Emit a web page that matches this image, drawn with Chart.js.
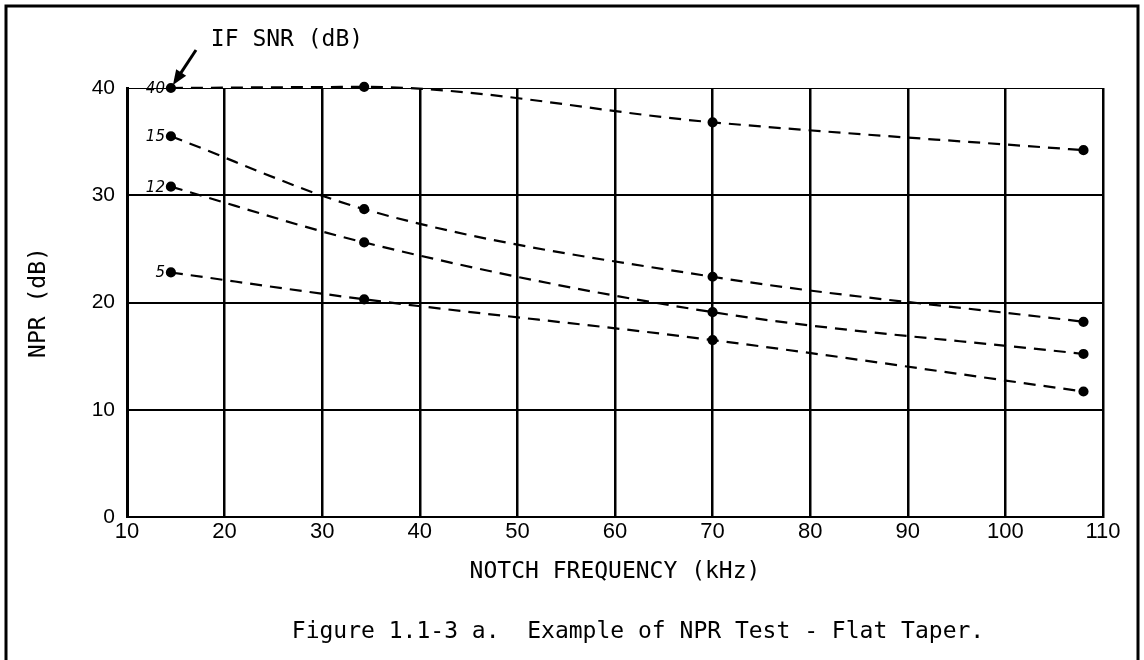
<!DOCTYPE html>
<html>
<head>
<meta charset="utf-8">
<title>NPR Test - Flat Taper</title>
<script src="https://cdn.jsdelivr.net/npm/chart.js@4.4.1/dist/chart.umd.min.js"></script>
<style>
  html, body { margin: 0; padding: 0; background: #fff; }
  canvas { display: block; }
</style>
</head>
<body>
<canvas id="nprChart" width="1144" height="660"></canvas>
<script>
// notch frequencies (kHz) where NPR was measured
const freqKHz = [14.5, 34.3, 70, 108];

// IF SNR (dB) of each curve, and the NPR (dB) read at each notch
const snrLabels = ['40', '15', '12', '5'];
const npr40 = [40, 40.1, 36.8, 34.2];
const npr15 = [35.5, 28.7, 22.4, 18.2];
const npr12 = [30.8, 25.6, 19.1, 15.2];
const npr5 = [22.8, 20.3, 16.5, 11.7];

const xTicks = [10, 20, 30, 40, 50, 60, 70, 80, 90, 100, 110];
const yTicks = [0, 10, 20, 30, 40];

const monoFont = "'DejaVu Sans Mono', monospace";
const digitFont = "'Liberation Sans', sans-serif";

function makeSeries(label, values) {
  return {
    label: label,
    data: freqKHz.map((f, i) => ({ x: f, y: values[i] })),
    showLine: true,
    clip: false,
    borderColor: '#000',
    backgroundColor: '#000',
    borderWidth: 2.2,
    borderDash: [12, 8],
    pointRadius: 4,
    pointHoverRadius: 4,
    cubicInterpolationMode: 'monotone',
  };
}

// frame, curve labels, "IF SNR" note and figure caption
const paperMarks = {
  id: 'paperMarks',
  beforeDraw(chart) {
    const ctx = chart.ctx;
    ctx.save();
    ctx.fillStyle = '#fff';
    ctx.fillRect(0, 0, chart.width, chart.height);
    ctx.strokeStyle = '#000';
    ctx.lineWidth = 3;
    ctx.beginPath();
    ctx.moveTo(6, chart.height);
    ctx.lineTo(6, 6);
    ctx.lineTo(1138, 6);
    ctx.lineTo(1138, chart.height);
    ctx.stroke();
    ctx.restore();
  },
  afterDatasetsDraw(chart) {
    const ctx = chart.ctx;
    ctx.save();
    ctx.fillStyle = '#000';
    ctx.strokeStyle = '#000';

    // curve labels beside the first point of each curve
    ctx.font = "italic 15px 'DejaVu Sans', sans-serif";
    ctx.textAlign = 'right';
    ctx.textBaseline = 'middle';
    chart.data.datasets.forEach((ds, i) => {
      const pt = chart.getDatasetMeta(i).data[0];
      ctx.fillText(ds.label, pt.x - 6, pt.y + 1);
    });

    // IF SNR (dB) note with arrow to the 40 dB curve
    const first = chart.getDatasetMeta(0).data[0];
    ctx.font = '23px ' + monoFont;
    ctx.textAlign = 'center';
    ctx.fillText('IF SNR (dB)', 287, 40);
    const tipX = first.x + 2, tipY = first.y - 3;
    const tailX = 196, tailY = 50;
    const ang = Math.atan2(tipY - tailY, tipX - tailX);
    ctx.lineWidth = 3;
    ctx.beginPath();
    ctx.moveTo(tailX, tailY);
    ctx.lineTo(tipX - 10 * Math.cos(ang), tipY - 10 * Math.sin(ang));
    ctx.stroke();
    ctx.beginPath();
    ctx.moveTo(tipX, tipY);
    ctx.lineTo(tipX - 15 * Math.cos(ang) + 6 * Math.sin(ang), tipY - 15 * Math.sin(ang) - 6 * Math.cos(ang));
    ctx.lineTo(tipX - 15 * Math.cos(ang) - 6 * Math.sin(ang), tipY - 15 * Math.sin(ang) + 6 * Math.cos(ang));
    ctx.closePath();
    ctx.fill();

    // figure caption
    ctx.font = '23px ' + monoFont;
    ctx.textAlign = 'center';
    ctx.fillText('Figure 1.1-3 a.  Example of NPR Test - Flat Taper.', 638, 632);
    ctx.restore();
  },
};

const ctx = document.getElementById('nprChart');

new Chart(ctx, {
  type: 'scatter',
  data: {
    datasets: [
      makeSeries(snrLabels[0], npr40),
      makeSeries(snrLabels[1], npr15),
      makeSeries(snrLabels[2], npr12),
      makeSeries(snrLabels[3], npr5),
    ],
  },
  options: {
    responsive: false,
    animation: false,
    devicePixelRatio: 1,
    layout: {
      padding: { top: 88, left: 20, right: 41, bottom: 44 },
    },
    plugins: {
      legend: { display: false },
      tooltip: { enabled: false },
    },
    scales: {
      x: {
        type: 'linear',
        min: 10,
        max: 110,
        afterBuildTicks: (scale) => {
          scale.ticks = xTicks.map((v) => ({ value: v }));
        },
        afterFit: (scale) => {
          scale.height = 99;
        },
        grid: {
          color: '#000',
          lineWidth: 2.5,
          drawTicks: false,
        },
        border: { color: '#000', width: 2 },
        ticks: {
          color: '#000',
          padding: 2,
          font: { family: digitFont, size: 22 },
        },
        title: {
          display: true,
          text: 'NOTCH FREQUENCY (kHz)',
          color: '#000',
          font: { family: monoFont, size: 23, lineHeight: 1 },
          padding: { top: 0, bottom: 32.5 },
        },
      },
      y: {
        min: 0,
        max: 40,
        afterBuildTicks: (scale) => {
          scale.ticks = yTicks.map((v) => ({ value: v }));
        },
        afterFit: (scale) => {
          scale.width = 107;
        },
        grid: {
          color: '#000',
          lineWidth: (c) => (c.tick && c.tick.value === 40 ? 1 : 2),
          drawTicks: false,
        },
        border: { color: '#000', width: 3 },
        ticks: {
          color: '#000',
          padding: 12,
          font: { family: digitFont, size: 21 },
        },
        title: {
          display: true,
          text: 'NPR (dB)',
          color: '#000',
          font: { family: monoFont, size: 23, lineHeight: 1 },
          padding: { top: 8, bottom: 0 },
        },
      },
    },
  },
  plugins: [paperMarks],
});
</script>
</body>
</html>
